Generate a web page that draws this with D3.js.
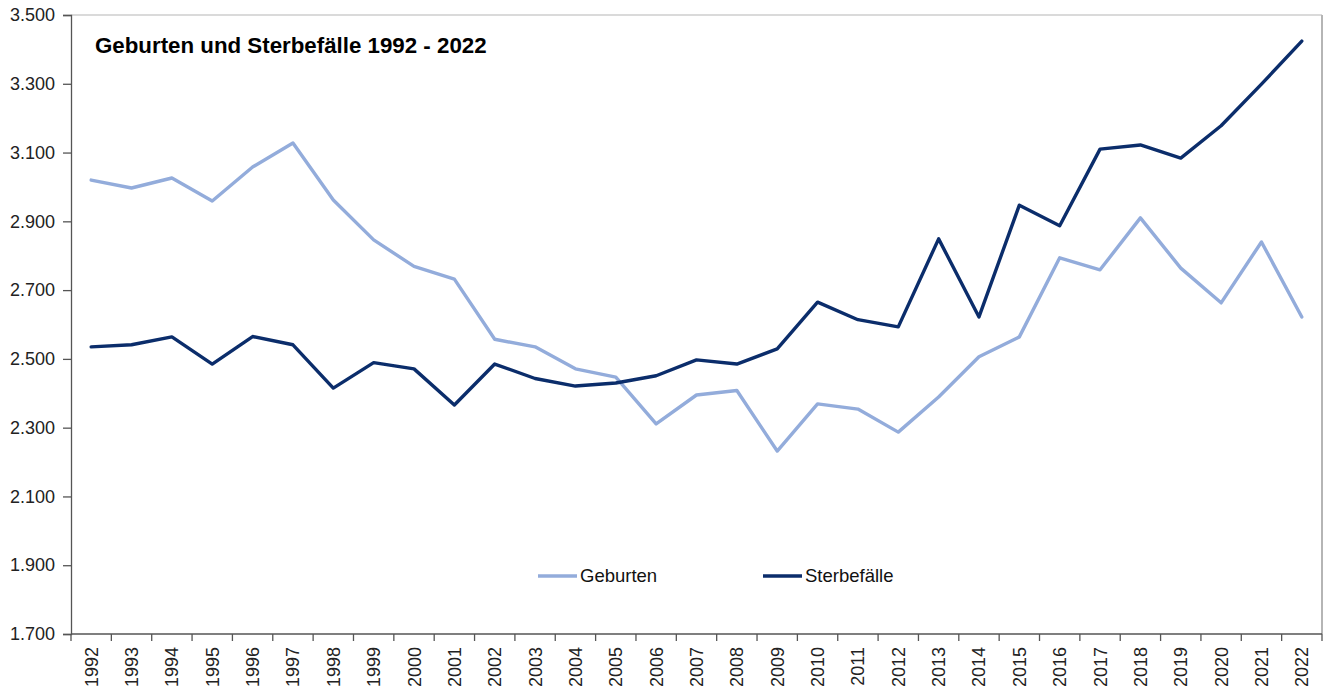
<!DOCTYPE html>
<html>
<head>
<meta charset="utf-8">
<script src="https://cdn.jsdelivr.net/npm/d3@7"></script>
<style>
  html, body { margin: 0; padding: 0; background: #fff; }
  svg { display: block; font-family: Arial, "Liberation Sans", sans-serif; }
</style>
</head>
<body>
<svg id="chart" width="1327" height="691"></svg>
<script>
// Jahre und Werte (in Tausend, als 1.000er-Trennung angezeigt)
const years = ["1992","1993","1994","1995","1996","1997","1998","1999","2000","2001",
  "2002","2003","2004","2005","2006","2007","2008","2009","2010","2011",
  "2012","2013","2014","2015","2016","2017","2018","2019","2020","2021","2022"];

const geburten = [3020, 2997, 3026, 2959, 3058, 3128, 2962, 2846, 2769, 2732,
  2557, 2535, 2471, 2447, 2311, 2395, 2408, 2232, 2369, 2354,
  2287, 2389, 2506, 2564, 2794, 2759, 2910, 2764, 2663, 2840, 2622];

const sterbefaelle = [2535, 2541, 2564, 2485, 2565, 2541, 2415, 2489, 2471, 2366,
  2485, 2443, 2421, 2430, 2451, 2497, 2485, 2529, 2665, 2614,
  2593, 2849, 2622, 2947, 2887, 3110, 3122, 3084, 3178, 3299, 3424];

const yTicks = [1700, 1900, 2100, 2300, 2500, 2700, 2900, 3100, 3300, 3500];

const seriesNames = ["Geburten", "Sterbefälle"];
const seriesColors = ["#93acdb", "#0b2d6b"];

const svg = d3.select("#chart");
const plotL = 71, plotR = 1322, plotT = 15, plotB = 634;

const x = d3.scaleBand().domain(years).range([plotL, plotR]).padding(0);
const y = d3.scaleLinear().domain([1700, 3500]).range([plotB, plotT]);

const fmt = v => d3.format(",.0f")(v).replace(/,/g, ".");

// Rahmen oben und rechts
svg.append("line").attr("x1", plotL).attr("x2", plotR).attr("y1", plotT).attr("y2", plotT)
  .attr("stroke", "#b5b5b5").attr("stroke-width", 1.2);
svg.append("line").attr("x1", plotR).attr("x2", plotR).attr("y1", plotT).attr("y2", plotB)
  .attr("stroke", "#b5b5b5").attr("stroke-width", 2);

// y-Achse
const yAxis = d3.axisLeft(y).tickValues(yTicks).tickSize(8).tickPadding(8).tickFormat(fmt);
const gy = svg.append("g").attr("transform", `translate(${plotL},0)`).call(yAxis);
gy.select(".domain").attr("stroke", "#555").attr("stroke-width", 1.3);
gy.selectAll(".tick line").attr("stroke", "#555").attr("stroke-width", 1.3);
gy.selectAll(".tick text").attr("font-size", 18).attr("fill", "#222")
  .attr("font-family", "Arial, 'Liberation Sans', sans-serif");

// x-Achse mit Teilstrichen zwischen den Jahren
const gx = svg.append("g").attr("transform", `translate(0,${plotB})`);
gx.append("line").attr("x1", plotL).attr("x2", plotR).attr("y1", 0).attr("y2", 0)
  .attr("stroke", "#555").attr("stroke-width", 1.3);
const edges = years.map(d => x(d)).concat([plotR]);
gx.selectAll("line.tk").data(edges).join("line").attr("class", "tk")
  .attr("x1", d => d).attr("x2", d => d).attr("y1", 0).attr("y2", 7)
  .attr("stroke", "#555").attr("stroke-width", 1.3);
gx.selectAll("text").data(years).join("text")
  .attr("transform", d => `translate(${x(d) + x.bandwidth() / 2},13) rotate(-90)`)
  .attr("text-anchor", "end").attr("dy", "0.36em")
  .attr("font-size", 18).attr("fill", "#222")
  .text(d => d);

// Linien
const line = d3.line().x((d, i) => x(years[i]) + x.bandwidth() / 2).y(d => y(d));
[geburten, sterbefaelle].forEach((s, k) => {
  svg.append("path").datum(s).attr("d", line)
    .attr("fill", "none").attr("stroke", seriesColors[k])
    .attr("stroke-width", 3.4).attr("stroke-linejoin", "round").attr("stroke-linecap", "round");
});

// Titel
svg.append("text").attr("x", 95).attr("y", 53)
  .attr("font-size", 22.3).attr("font-weight", "bold").attr("fill", "#000")
  .text("Geburten und Sterbefälle 1992 - 2022");

// Legende
const legendPos = [538, 763];
seriesNames.forEach((name, k) => {
  const g = svg.append("g").attr("transform", `translate(${legendPos[k]},576)`);
  g.append("line").attr("x1", 0).attr("x2", 39).attr("y1", 0).attr("y2", 0)
    .attr("stroke", seriesColors[k]).attr("stroke-width", 3.4);
  g.append("text").attr("x", 42).attr("y", 0).attr("dy", "0.35em")
    .attr("font-size", 18.5).attr("fill", "#111").text(name);
});
</script>
</body>
</html>
